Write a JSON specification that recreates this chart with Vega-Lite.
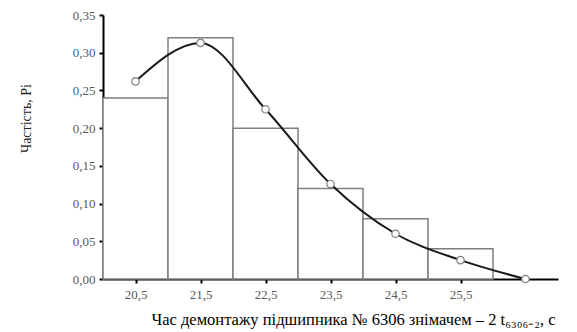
{
  "$schema": "https://vega.github.io/schema/vega-lite/v6.json",
  "width": 455,
  "height": 264,
  "autosize": {"type": "none"},
  "padding": {"left": 103, "top": 15, "right": 19, "bottom": 53},
  "background": "white",
  "config": {
    "view": {"stroke": null},
    "font": "Liberation Serif",
    "axis": {
      "grid": false,
      "domainColor": "#000000", "domainWidth": 2,
      "tickColor": "#000000", "tickWidth": 2, "tickSize": 4,
      "labelFont": "Liberation Serif", "labelFontSize": 13, "labelColor": "#595959",
      "titleFont": "Liberation Serif", "titleFontWeight": "normal", "titleColor": "#000000"
    }
  },
  "datasets": {
    "bars": [
      {"x": 20, "hi": 21, "p": 0.24},
      {"x": 21, "hi": 22, "p": 0.32},
      {"x": 22, "hi": 23, "p": 0.20},
      {"x": 23, "hi": 24, "p": 0.12},
      {"x": 24, "hi": 25, "p": 0.08},
      {"x": 25, "hi": 26, "p": 0.04}
    ],
    "curve": [
      {"x": 20.5, "p": 0.262},
      {"x": 21.5, "p": 0.313},
      {"x": 22.5, "p": 0.225},
      {"x": 23.5, "p": 0.126},
      {"x": 24.5, "p": 0.06},
      {"x": 25.5, "p": 0.025},
      {"x": 26.5, "p": 0.0}
    ]
  },
  "encoding": {
    "x": {
      "field": "x", "type": "quantitative",
      "scale": {"domain": [20, 27], "nice": false, "zero": false},
      "axis": {
        "values": [20.5, 21.5, 22.5, 23.5, 24.5, 25.5],
        "labelExpr": "replace(format(datum.value, '.1f'), '.', ',')",
        "labelPadding": 5,
        "title": "Час демонтажу підшипника № 6306 знімачем – 2 t₆₃₀₆₋₂, с",
        "titleFontSize": 16.5,
        "titleX": 250, "titleY": 32
      }
    },
    "y": {
      "field": "p", "type": "quantitative",
      "scale": {"domain": [0, 0.35], "nice": false},
      "axis": {
        "values": [0, 0.05, 0.1, 0.15, 0.2, 0.25, 0.3, 0.35],
        "labelExpr": "replace(format(datum.value, '.2f'), '.', ',')",
        "labelPadding": 4,
        "title": "Частість, Pi",
        "titleFontSize": 14, "titleColor": "#222222",
        "titleX": -70, "titleY": 103
      }
    }
  },
  "layer": [
    {
      "data": {"name": "bars"},
      "mark": {"type": "rect", "fill": "white", "stroke": "#7f7f7f", "strokeWidth": 1.5},
      "encoding": {"x2": {"field": "hi"}}
    },
    {
      "data": {"name": "curve"},
      "mark": {"type": "line", "color": "#1a1a1a", "strokeWidth": 2, "interpolate": "monotone"}
    },
    {
      "data": {"name": "curve"},
      "mark": {"type": "point", "filled": true, "fill": "white", "stroke": "#808080", "strokeWidth": 1.2, "size": 55, "opacity": 1}
    }
  ]
}
